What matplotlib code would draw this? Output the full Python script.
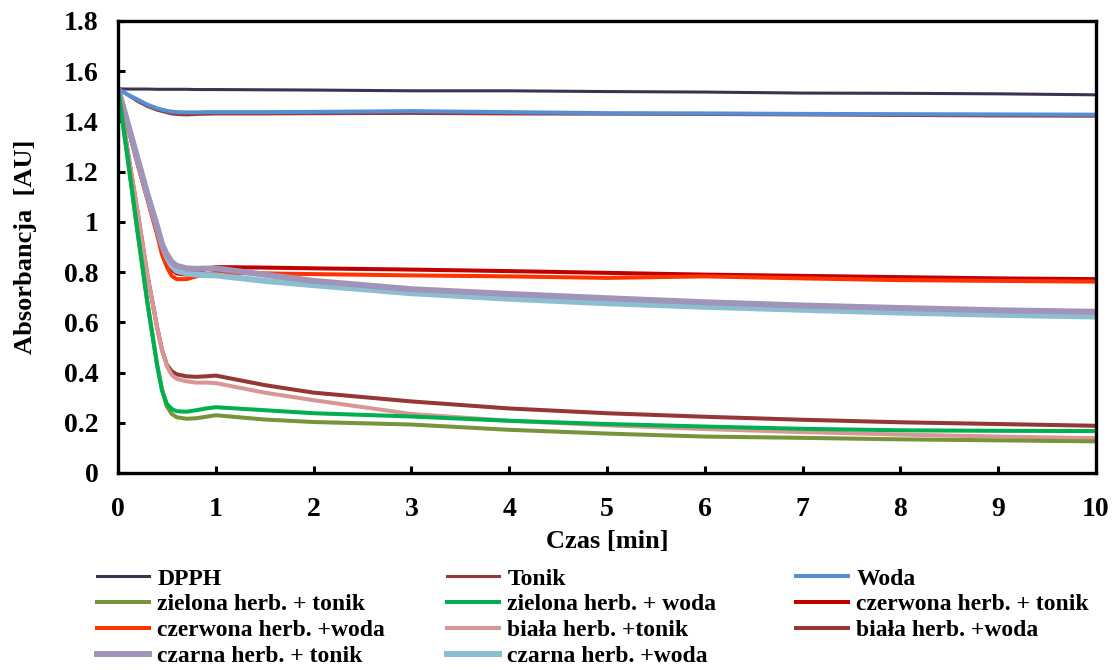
import matplotlib
matplotlib.use('Agg')
import matplotlib.pyplot as plt
from matplotlib.lines import Line2D

plt.rcParams['font.family'] = ['Liberation Serif', 'DejaVu Serif']
plt.rcParams['font.weight'] = 'bold'

# time points [min]
czas = [0, 0.1, 0.2, 0.3, 0.4, 0.45, 0.5, 0.55, 0.6, 0.7, 0.8, 0.9, 1,
        1.5, 2, 3, 4, 5, 6, 7, 8, 9, 10]

dpph = [1.53, 1.529, 1.529, 1.529, 1.528, 1.528, 1.528, 1.528, 1.528, 1.528, 1.527, 1.527, 1.527,
        1.526, 1.525, 1.522, 1.522, 1.519, 1.517, 1.513, 1.512, 1.51, 1.506]
tonik = [1.53, 1.505, 1.48, 1.46, 1.445, 1.44, 1.435, 1.43, 1.428, 1.426, 1.428, 1.429, 1.43,
         1.43, 1.431, 1.432, 1.43, 1.429, 1.428, 1.426, 1.424, 1.422, 1.421]
woda = [1.53, 1.507, 1.487, 1.467, 1.452, 1.447, 1.442, 1.439, 1.437, 1.436, 1.436, 1.437, 1.437,
        1.437, 1.438, 1.441, 1.437, 1.433, 1.432, 1.43, 1.429, 1.428, 1.427]
ziel_tonik = [1.53, 1.25, 0.96, 0.68, 0.43, 0.33, 0.265, 0.235, 0.222, 0.216, 0.218, 0.224, 0.23,
              0.213, 0.203, 0.193, 0.172, 0.157, 0.145, 0.14, 0.134, 0.13, 0.126]
ziel_woda = [1.53, 1.25, 0.96, 0.68, 0.43, 0.33, 0.275, 0.255, 0.246, 0.244, 0.25, 0.257, 0.262,
             0.25, 0.238, 0.225, 0.208, 0.195, 0.185, 0.176, 0.17, 0.168, 0.167]
czer_tonik = [1.53, 1.38, 1.235, 1.095, 0.96, 0.89, 0.84, 0.81, 0.795, 0.79, 0.8, 0.812, 0.82,
              0.818, 0.815, 0.81, 0.804, 0.797, 0.79, 0.785, 0.78, 0.775, 0.772]
czer_woda = [1.53, 1.38, 1.23, 1.09, 0.95, 0.87, 0.82, 0.785, 0.772, 0.772, 0.783, 0.792, 0.797,
             0.795, 0.792, 0.787, 0.783, 0.777, 0.783, 0.775, 0.768, 0.765, 0.762]
biala_tonik = [1.53, 1.28, 1.04, 0.79, 0.58, 0.49, 0.425, 0.39, 0.375, 0.365, 0.36, 0.36, 0.358,
               0.32, 0.29, 0.235, 0.208, 0.19, 0.175, 0.163, 0.153, 0.145, 0.139]
biala_woda = [1.53, 1.28, 1.04, 0.79, 0.58, 0.49, 0.43, 0.405, 0.393, 0.385, 0.383, 0.385, 0.388,
              0.35, 0.32, 0.285, 0.257, 0.238, 0.224, 0.212, 0.202, 0.195, 0.188]
czar_tonik = [1.53, 1.39, 1.25, 1.11, 0.98, 0.91, 0.87, 0.84, 0.825, 0.815, 0.813, 0.814, 0.815,
              0.79, 0.765, 0.732, 0.713, 0.696, 0.68, 0.667, 0.657, 0.648, 0.642]
czar_woda = [1.53, 1.39, 1.25, 1.11, 0.98, 0.91, 0.86, 0.825, 0.805, 0.795, 0.79, 0.788, 0.787,
             0.765, 0.748, 0.716, 0.694, 0.676, 0.662, 0.65, 0.639, 0.63, 0.623]

nazwy = ['DPPH', 'Tonik', 'Woda',
         'zielona herb. + tonik', 'zielona herb. + woda', 'czerwona herb. + tonik',
         'czerwona herb. +woda', 'biała herb. +tonik', 'biała herb. +woda',
         'czarna herb. + tonik', 'czarna herb. +woda']
serie = [dpph, tonik, woda, ziel_tonik, ziel_woda, czer_tonik,
         czer_woda, biala_tonik, biala_woda, czar_tonik, czar_woda]
kolory = ['#3F3151', '#953735', '#558ED5', '#77933C', '#00B050', '#C00000',
          '#FF3300', '#D99694', '#953735', '#A094B9', '#8CBED2']
grubosc = [2.2, 2.2, 2.9, 2.9, 2.9, 2.9, 2.9, 2.9, 2.9, 4.3, 4.3]

fig = plt.figure(figsize=(11.17, 6.70), dpi=100)
ax = fig.add_axes([118/1117, 1 - 473/670, (1096 - 118)/1117, (473 - 21)/670])

# draw order: back ones first so thin lines stay visible like in the original
kolejnosc = [5, 6, 10, 9, 8, 7, 3, 4, 0, 1, 2]
for i in kolejnosc:
    ax.plot(czas, serie[i], color=kolory[i], lw=grubosc[i],
            solid_joinstyle='round', solid_capstyle='butt')

ax.set_xlim(0, 10)
ax.set_ylim(0, 1.8)
ax.set_xticks(range(0, 11))
ax.set_yticks([0, 0.2, 0.4, 0.6, 0.8, 1.0, 1.2, 1.4, 1.6, 1.8])
ax.set_yticklabels(['0', '0.2', '0.4', '0.6', '0.8', '1', '1.2', '1.4', '1.6', '1.8'])
ax.tick_params(direction='in', length=5, width=2.2, labelsize=20)
ax.tick_params(axis='y', pad=14)
ax.tick_params(axis='x', pad=17)
for s in ax.spines.values():
    s.set_linewidth(2.4)

ax.set_xlabel('Czas [min]', fontsize=19, fontweight='bold', labelpad=6)
ax.set_ylabel('Absorbancja  [AU]', fontsize=19, fontweight='bold', labelpad=19)

# legend in three fixed columns like the Excel one
kolumny = [[0, 3, 6, 9], [1, 4, 7, 10], [2, 5, 8]]
x_kol = [97/1117, 447/1117, 796/1117]
for k, idx in enumerate(kolumny):
    uchwyty = [Line2D([], [], color=kolory[i], lw=grubosc[i]) for i in idx]
    leg = fig.legend(uchwyty, [nazwy[i] for i in idx], loc='upper left',
                     bbox_to_anchor=(x_kol[k], 1 - 568/670), frameon=False,
                     fontsize=17, handlelength=2.2, handletextpad=0.35,
                     labelspacing=0.18, borderpad=0, borderaxespad=0)
    for t in leg.get_texts():
        t.set_fontweight('bold')

fig.savefig('out.png', dpi=100)
